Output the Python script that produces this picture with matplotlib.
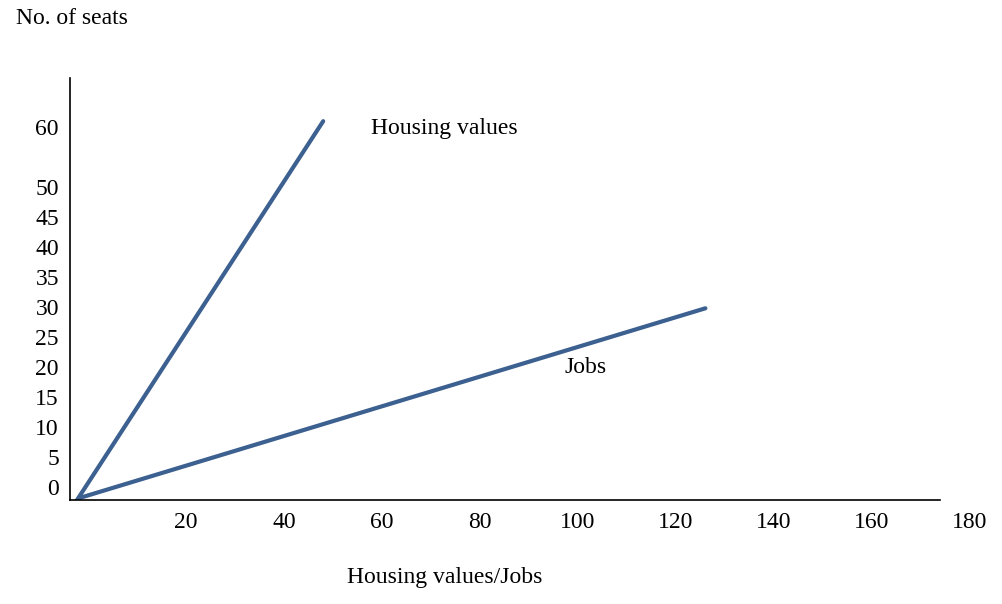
import matplotlib.pyplot as plt

# Values.
housing_x = [-2.5, 48]
housing_y = [-2.5, 61]
jobs_x = [-1.6, 126]
jobs_y = [-1.8, 29.8]
y_ticks = [0, 5, 10, 15, 20, 25, 30, 35, 40, 45, 50, 60]
x_ticks = [20, 40, 60, 80, 100, 120, 140, 160, 180]

plt.rcParams["font.family"] = ["Liberation Serif", "DejaVu Serif"]
plt.rcParams["font.size"] = 17

W, H = 1003, 604
# pixel mapping: px = 88 + 4.9 * x ; py = 487 - 6 * y
x0, x1 = -3.67, 185
y0, y1 = -2.17, 68.2
left = 70 / W
bottom = (H - 500) / H
width = (88 + 4.9 * x1 - 70) / W
height = (500 - 78) / H

fig = plt.figure(figsize=(W / 100, H / 100), dpi=100)
ax = fig.add_axes([left, bottom, width, height])

line_color = "#3c6090"
ax.plot(housing_x, housing_y, color=line_color, linewidth=3, solid_capstyle="round")
ax.plot(jobs_x, jobs_y, color=line_color, linewidth=3, solid_capstyle="round")

ax.set_xlim(x0, x1)
ax.set_ylim(y0, y1)
ax.spines["top"].set_visible(False)
ax.spines["right"].set_visible(False)
ax.spines["bottom"].set_bounds(x0, 173.9)
ax.spines["left"].set_linewidth(1.2)
ax.spines["bottom"].set_linewidth(1.2)

ax.set_yticks(y_ticks)
ax.set_xticks(x_ticks)
ax.tick_params(axis="both", length=0)
ax.tick_params(axis="y", pad=8)
ax.tick_params(axis="x", pad=9)

ax.text(57.8, 59.8, "Housing values", va="center", ha="left")
ax.text(97.3, 20, "Jobs", va="center", ha="left")

fig.text(16 / W, 1 - 18 / H, "No. of seats", va="center", ha="left")
fig.text(445 / W, 1 - 577 / H, "Housing values/Jobs", va="center", ha="center")

fig.savefig("out.png", dpi=100)
